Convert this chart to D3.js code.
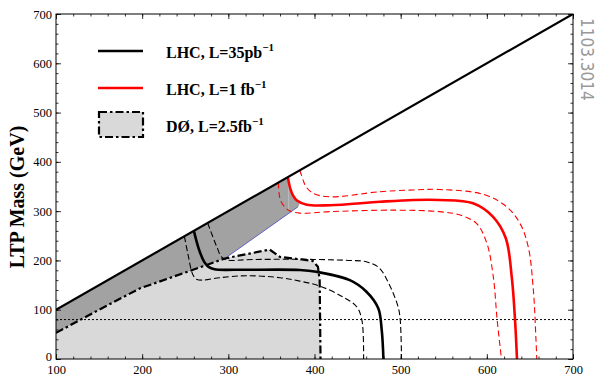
<!DOCTYPE html>
<html>
<head>
<meta charset="utf-8">
<script src="https://cdn.jsdelivr.net/npm/d3@7"></script>
<style>
  body { margin: 0; background: #fff; }
  svg { display: block; }
</style>
</head>
<body>
<svg id="chart" width="608" height="376"></svg>
<script>
// axis ranges and ticks
const xDomain = [100, 700];
const yDomain = [0, 700];
const majorTicks = [0, 100, 200, 300, 400, 500, 600, 700];
const minorTicks = d3.range(0, 701, 20);

// kinematic edge (LTP mass = slepton mass)
const diagonal = [[100, 100], [700, 700]];
// LEP limit on the LTP mass
const lepLimit = 80;

// D0 excluded region (dash-dot)
const d0Limit = [[100, 53], [150, 100], [197, 143], [259, 181], [296, 204], [348, 222],
  [360, 207], [385, 202], [398, 199], [404, 187], [406, 160], [407, 0]];
// lower edge of the dark band (thin blue line)
const bandEdge = [[296, 204], [381, 309]];

// LHC 35 pb^-1: central and +-1 sigma
const lhc35 = [[260, 260], [266, 222], [272, 197], [277, 187], [284, 182], [309, 181],
  [383, 180.6], [402, 177], [441, 160], [460, 137], [474, 103], [478, 59], [480, 0]];
const lhc35Lo = [[249, 249], [253, 214], [258.6, 172], [263, 162], [270, 160], [290, 165],
  [321, 169], [360, 165], [383, 158], [406, 148], [433, 126], [449, 106], [455, 79], [457, 0]];
const lhc35Hi = [[276, 276], [282, 248], [287, 226], [292, 207], [298, 201], [330, 202],
  [399, 202], [440, 200], [461, 197], [475, 185], [486, 154], [497, 106], [499.5, 79], [501, 0]];

// LHC 1 fb^-1: central and +-1 sigma
const lhc1 = [[369, 369], [372, 345], [375, 332], [380, 321], [391, 313], [418, 312],
  [476, 319], [515, 322.6], [545, 322.6], [584, 316], [607, 289], [622, 245],
  [629, 165], [632.7, 80], [635, 0]];
const lhc1Lo = [[358, 358], [359, 335], [361, 320], [369.6, 302], [383, 296], [418, 299],
  [495, 302], [545, 299], [569, 292], [588, 275], [600, 235], [607.5, 167], [612, 79], [617, 0]];
const lhc1Hi = [[383, 383], [387, 362], [390, 350], [398.6, 336], [418, 329], [476, 339.5],
  [515, 343], [545, 344], [596, 334], [623, 309], [638.5, 275], [648, 228], [654, 140],
  [657, 40], [658, 0]];

const legendItems = [
  { label: 'LHC, L=35pb', sup: '\u22121', kind: 'line', color: '#000' },
  { label: 'LHC, L=1 fb', sup: '\u22121', kind: 'line', color: '#f00' },
  { label: 'D\u00d8, L=2.5fb', sup: '\u22121', kind: 'box', color: '#000' }
];

const svg = d3.select('#chart');
const plotL = 56, plotR = 573, plotT = 14, plotB = 359;
const serif = '"Liberation Serif", "Times New Roman", serif';

const x = d3.scaleLinear().domain(xDomain).range([plotL, plotR]);
const y = d3.scaleLinear().domain(yDomain).range([plotB, plotT]);

const line = d3.line().x(d => x(d[0])).y(d => y(d[1]));
const smooth = d3.line().x(d => x(d[0])).y(d => y(d[1])).curve(d3.curveCatmullRom.alpha(0.5));

const defs = svg.append('defs');
defs.append('clipPath').attr('id', 'plot')
  .append('rect').attr('x', plotL).attr('y', plotT).attr('width', plotR - plotL).attr('height', plotB - plotT);

const g = svg.append('g').attr('clip-path', 'url(#plot)');

// light grey: D0 excluded
g.append('path')
  .attr('d', line([...d0Limit, [407, 0], [100, 0]]))
  .attr('fill', '#d9d9d9');

// dark grey band between the diagonal and the D0 / blue edge
const upTo = d0Limit.filter(d => d[0] <= 296);
const redTop = lhc1.filter(d => d[0] <= 381).reverse();
g.append('path')
  .attr('d', line([...upTo, bandEdge[1], [383, 315], ...redTop, [100, 100]]))
  .attr('fill', '#a2a2a2');
g.append('line')
  .attr('x1', x(370)).attr('x2', x(370)).attr('y1', y(370)).attr('y2', y(304))
  .attr('stroke', '#c4c4c4').attr('stroke-width', 0.8);
g.append('path').attr('d', line(bandEdge))
  .attr('fill', 'none').attr('stroke', '#4a4ac8').attr('stroke-width', 0.8);

// LEP limit
g.append('path').attr('d', line([[100, lepLimit], [700, lepLimit]]))
  .attr('fill', 'none').attr('stroke', '#000').attr('stroke-width', 1)
  .attr('stroke-dasharray', '2,2');

// LHC curves
const curves = [
  { data: lhc35Lo, color: '#000', w: 1.1, dash: '6,3' },
  { data: lhc35Hi, color: '#000', w: 1.1, dash: '6,3' },
  { data: lhc1Lo, color: '#f00', w: 1.1, dash: '6,3.5' },
  { data: lhc1Hi, color: '#f00', w: 1.1, dash: '6,3.5' },
  { data: lhc35, color: '#000', w: 2.6, dash: null },
  { data: lhc1, color: '#f00', w: 2.6, dash: null }
];
curves.forEach(c => {
  g.append('path').attr('d', smooth(c.data))
    .attr('fill', 'none').attr('stroke', c.color).attr('stroke-width', c.w)
    .attr('stroke-dasharray', c.dash);
});

// D0 limit line
g.append('path').attr('d', line(d0Limit))
  .attr('fill', 'none').attr('stroke', '#000').attr('stroke-width', 2.2)
  .attr('stroke-dasharray', '8,3,2.5,3');

// diagonal
g.append('path').attr('d', line(diagonal))
  .attr('fill', 'none').attr('stroke', '#000').attr('stroke-width', 2.2);

// axes, ticks pointing inward on all four sides
const fmt = d3.format('d');
const xMajor = majorTicks.filter(v => v >= 100);
function addAxis(axis, tr, labels) {
  const a = svg.append('g').attr('transform', tr).call(axis);
  a.select('.domain').remove();
  a.selectAll('text').attr('font-family', serif)
    .attr('font-size', 12.5).attr('fill', '#000');
  if (!labels) a.selectAll('text').remove();
  a.selectAll('line').attr('stroke', '#000').attr('stroke-width', 0.8);
  return a;
}
addAxis(d3.axisBottom(x).tickValues(xMajor).tickSize(-5).tickPadding(6).tickFormat(fmt), `translate(0,${plotB})`, true);
addAxis(d3.axisBottom(x).tickValues(minorTicks.filter(v => v > 100)).tickSize(-2.5).tickFormat(''), `translate(0,${plotB})`, false);
addAxis(d3.axisTop(x).tickValues(xMajor).tickSize(-5), `translate(0,${plotT})`, false);
addAxis(d3.axisTop(x).tickValues(minorTicks.filter(v => v > 100)).tickSize(-2.5), `translate(0,${plotT})`, false);
const yAx = addAxis(d3.axisLeft(y).tickValues(majorTicks).tickSize(-5).tickPadding(4).tickFormat(fmt), `translate(${plotL},0)`, true);
// lift the "0" a little so it clears the "100" below it
yAx.selectAll('.tick').filter(d => d === 0).select('text').attr('y', -3);
addAxis(d3.axisLeft(y).tickValues(minorTicks).tickSize(-2.5).tickFormat(''), `translate(${plotL},0)`, false);
addAxis(d3.axisRight(y).tickValues(majorTicks).tickSize(-5), `translate(${plotR},0)`, false);
addAxis(d3.axisRight(y).tickValues(minorTicks).tickSize(-2.5), `translate(${plotR},0)`, false);

svg.append('rect')
  .attr('x', plotL).attr('y', plotT).attr('width', plotR - plotL).attr('height', plotB - plotT)
  .attr('fill', 'none').attr('stroke', '#000').attr('stroke-width', 1);

// y label
svg.append('text')
  .attr('transform', 'translate(24,197) rotate(-90)')
  .attr('text-anchor', 'middle')
  .attr('font-family', serif)
  .attr('font-weight', 'bold').attr('font-size', 20)
  .text('LTP Mass (GeV)');

// legend
const legend = svg.append('g');
legendItems.forEach((d, i) => {
  const cy = 51 + i * 37;
  if (d.kind === 'line') {
    legend.append('line').attr('x1', 98).attr('x2', 143).attr('y1', cy).attr('y2', cy)
      .attr('stroke', d.color).attr('stroke-width', 2.6);
  } else {
    legend.append('rect').attr('x', 99).attr('y', cy - 13).attr('width', 44).attr('height', 25)
      .attr('fill', '#d9d9d9').attr('stroke', '#000').attr('stroke-width', 2.2)
      .attr('stroke-dasharray', '8,3,2.5,3');
  }
  const t = legend.append('text').attr('x', 166).attr('y', cy + 7)
    .attr('font-family', serif)
    .attr('font-weight', 'bold').attr('font-size', 16);
  t.append('tspan').text(d.label);
  t.append('tspan').attr('dy', -7).attr('font-size', 11).text(d.sup);
});

// arXiv stamp
svg.append('text')
  .attr('transform', 'translate(581,18) rotate(90)')
  .attr('font-family', '"DejaVu Sans Condensed", "DejaVu Sans", sans-serif')
  .attr('font-stretch', 'condensed')
  .attr('font-size', 17)
  .attr('fill', '#999')
  .text('1103.3014');
</script>
</body>
</html>
